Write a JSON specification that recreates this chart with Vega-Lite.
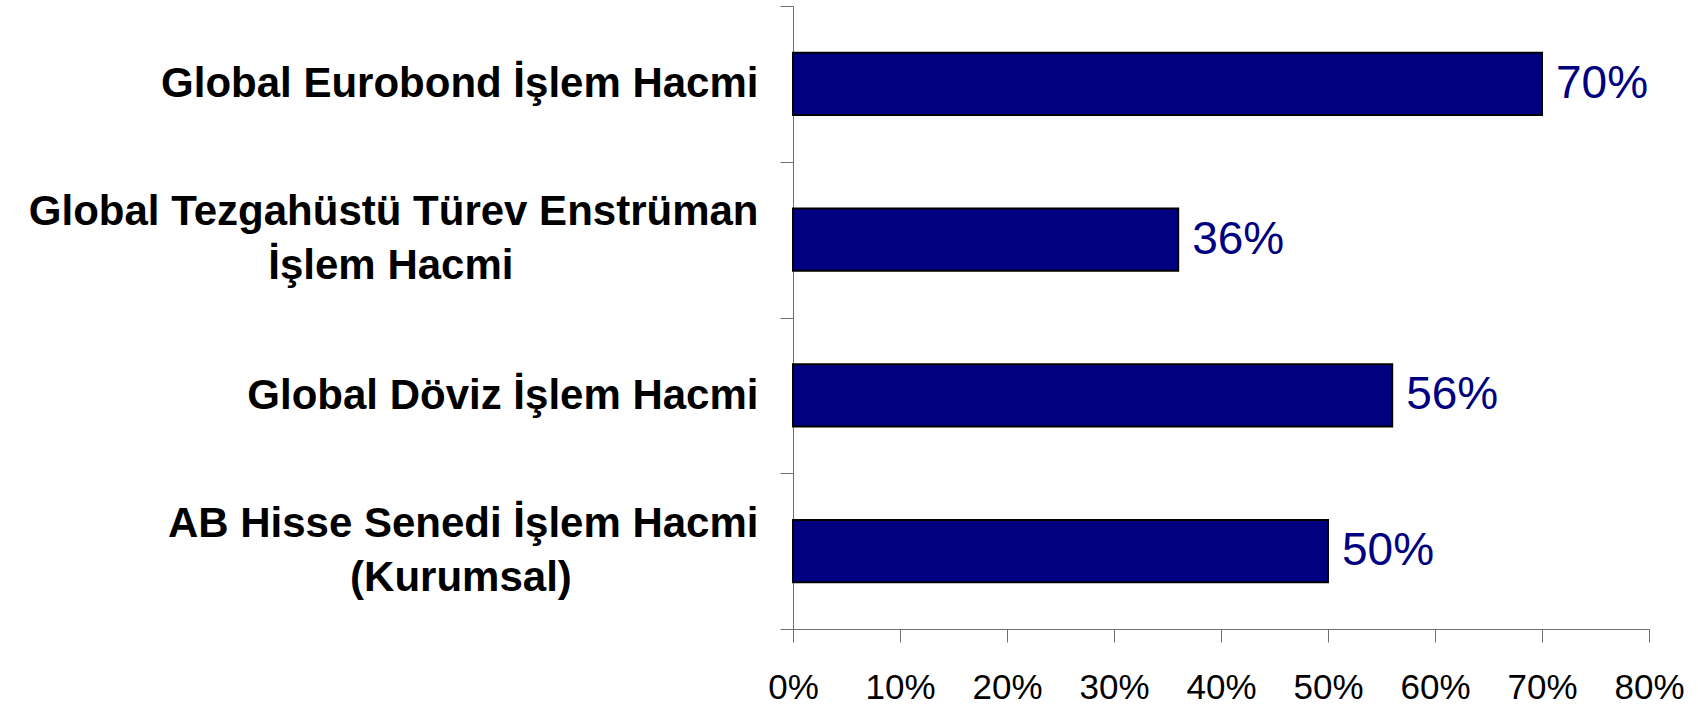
{
  "$schema": "https://vega.github.io/schema/vega-lite/v6.json",
  "width": 856,
  "height": 623,
  "autosize": "none",
  "padding": {"left": 793, "top": 6, "right": 49, "bottom": 78},
  "background": "white",
  "config": {"view": {"stroke": null}},
  "data": {
    "values": [
      {"label": "Global Eurobond İşlem Hacmi", "value": 0.70},
      {"label": "Global Tezgahüstü Türev Enstrüman İşlem Hacmi", "value": 0.36},
      {"label": "Global Döviz İşlem Hacmi", "value": 0.56},
      {"label": "AB Hisse Senedi İşlem Hacmi (Kurumsal)", "value": 0.50}
    ]
  },
  "resolve": {"axis": {"y": "independent"}},
  "layer": [
    {
      "mark": {"type": "bar", "fill": "#000080", "stroke": "black", "strokeWidth": 2, "height": {"band": 0.4}},
      "encoding": {
        "y": {
          "field": "label",
          "type": "nominal",
          "sort": null,
          "title": null,
          "scale": {"paddingInner": 0, "paddingOuter": 0},
          "axis": {
            "orient": "left",
            "tickBand": "extent",
            "tickSize": 13,
            "tickColor": "#707070",
            "domainColor": "#707070",
            "labelPadding": 22,
            "labelFont": "Liberation Sans",
            "labelFontSize": 42,
            "labelFontWeight": "bold",
            "labelColor": "black",
            "labelLimit": 1000,
            "labelExpr": "indexof(datum.label, 'Tezgah') >= 0 || indexof(datum.label, 'Kurumsal') >= 0 ? '' : datum.label"
          }
        },
        "x": {
          "field": "value",
          "type": "quantitative",
          "title": null,
          "scale": {"domain": [0, 0.8], "nice": false},
          "axis": {
            "values": [0, 0.1, 0.2, 0.3, 0.4, 0.5, 0.6, 0.7, 0.8],
            "format": ".0%",
            "grid": false,
            "tickSize": 13,
            "tickColor": "#707070",
            "domainColor": "#707070",
            "labelPadding": 28,
            "labelFont": "Liberation Sans",
            "labelFontSize": 35,
            "labelColor": "black",
            "labelFlush": false,
            "labelOverlap": false
          }
        }
      }
    },
    {
      "mark": {
        "type": "text",
        "align": "left",
        "baseline": "middle",
        "dx": 14,
        "font": "Liberation Sans",
        "fontSize": 46,
        "color": "#000080"
      },
      "encoding": {
        "y": {
          "field": "label",
          "type": "nominal",
          "sort": null,
          "title": null,
          "axis": {
            "orient": "left",
            "domain": false,
            "tickBand": "extent",
            "tickSize": 13,
            "tickOpacity": 0,
            "labelPadding": 22,
            "labelFont": "Liberation Sans",
            "labelFontSize": 42,
            "labelFontWeight": "bold",
            "labelColor": "black",
            "labelLimit": 1000,
            "labelLineHeight": 54,
            "labelBaseline": "line-bottom",
            "labelExpr": "indexof(datum.label, 'Tezgah') >= 0 ? ['Global Tezgahüstü Türev Enstrüman', 'İşlem Hacmi\u00a0\u00a0\u00a0\u00a0\u00a0\u00a0\u00a0\u00a0\u00a0\u00a0\u00a0\u00a0\u00a0\u00a0\u00a0\u00a0\u00a0\u00a0\u00a0\u00a0\u00a0\u200b'] : indexof(datum.label, 'Kurumsal') >= 0 ? ['AB Hisse Senedi İşlem Hacmi', '(Kurumsal)\u00a0\u00a0\u00a0\u00a0\u00a0\u00a0\u00a0\u00a0\u00a0\u00a0\u00a0\u00a0\u00a0\u00a0\u00a0\u00a0\u200b'] : ''"
          }
        },
        "x": {"field": "value", "type": "quantitative"},
        "text": {"field": "value", "type": "quantitative", "format": ".0%"}
      }
    }
  ]
}
